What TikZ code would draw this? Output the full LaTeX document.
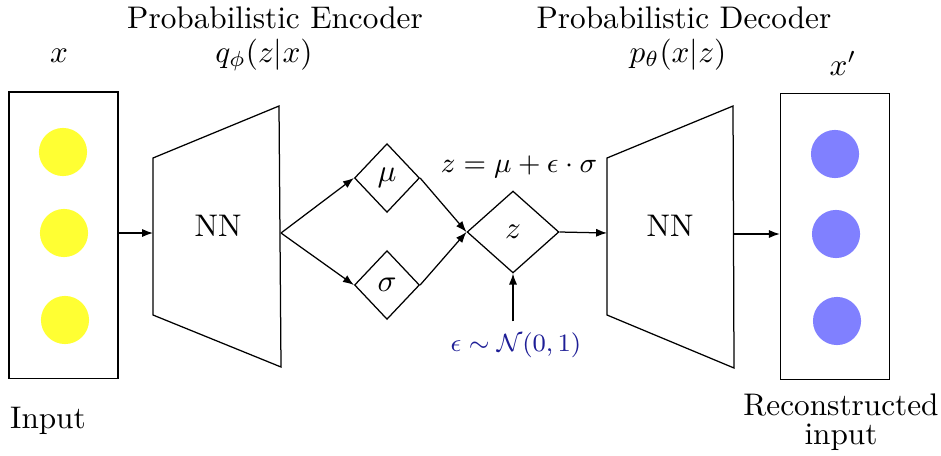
\documentclass[tikz,border=0pt]{standalone}
\usetikzlibrary{shapes.geometric,arrows.meta}
\definecolor{inyellow}{RGB}{255,255,51}
\definecolor{outblue}{RGB}{128,128,255}
\definecolor{epsblue}{RGB}{30,30,150}
\begin{document}
\begin{tikzpicture}[x=0.32pt,y=-0.32pt,
  arr/.style={-{Latex[length=3.5pt,width=2.6pt]}},
  layerbox/.style={draw,rectangle,minimum width=34.9pt,minimum height=91.6pt,inner sep=0},
  inunit/.style={circle,fill=inyellow,minimum size=15.4pt,inner sep=0},
  outunit/.style={circle,fill=outblue,minimum size=15.4pt,inner sep=0},
  gate/.style={draw,diamond,inner sep=0,minimum width=20.8pt,minimum height=22pt},
  zgate/.style={draw,diamond,inner sep=0,minimum width=29.4pt,minimum height=26.2pt},
  lbl/.style={anchor=base,inner sep=0}]
\useasboundingbox (0,0) rectangle (941,455);
% input
\node[layerbox] (inbox) at (63.5,235) {};
\node[inunit] (i1) at (63,152) {};
\node[inunit] (i2) at (64,233) {};
\node[inunit] (i3) at (65,320) {};
% encoder
\coordinate (e1) at (153,158);
\coordinate (e2) at (279,106);
\coordinate (e3) at (281,367);
\coordinate (e4) at (153,315);
\draw (e1) -- (e2) -- (e3) -- (e4) -- cycle;
\coordinate (ein) at (153,233);
\coordinate (eout) at (281,233);
\node (enc) at (218,226) {NN};
% latent
\node[gate] (mu) at (387,178) {$\mu$};
\node[gate] (sig) at (387,285) {$\sigma$};
\node[zgate] (z) at (513,232) {$z$};
\node[font=\fontsize{8.2}{10}\selectfont] (eps) at (516,345) {\color{epsblue}$\epsilon\sim\mathcal{N}(0,1)$};
\node[font=\fontsize{8.8}{11}\selectfont] (zeq) at (519,167) {$z=\mu+\epsilon\cdot\sigma$};
% decoder
\coordinate (d1) at (607,158);
\coordinate (d2) at (733,106);
\coordinate (d3) at (734,368);
\coordinate (d4) at (607,315);
\draw (d1) -- (d2) -- (d3) -- (d4) -- cycle;
\coordinate (din) at (607,233);
\coordinate (dout) at (733,234);
\node (dec) at (670,226) {NN};
% output
\node[layerbox] (outbox) at (835,236.5) {};
\node[outunit] (o1) at (835,154) {};
\node[outunit] (o2) at (836,234) {};
\node[outunit] (o3) at (837,321) {};
% connectors
\draw[arr] (inbox.east |- ein) -- (ein);
\draw[arr] (eout) -- (mu.west);
\draw[arr] (eout) -- (sig.west);
\draw[arr] (mu.east) -- (z.west);
\draw[arr] (sig.east) -- (z.west);
\draw[arr] (z.south |- eps.north) -- (z.south);
\draw[arr] (z.east) -- (din);
\draw[arr] (dout) -- (outbox.west |- dout);
% labels
\node[lbl] (xlab) at (59,62) {$x$};
\node[lbl] (enct) at (275,28) {Probabilistic Encoder};
\node[lbl] (encq) at (264,62) {$q_\phi(z|x)$};
\node[lbl] (dect) at (684,28) {Probabilistic Decoder};
\node[lbl] (decp) at (678,62) {$p_\theta(x|z)$};
\node[lbl] (xplab) at (843,75) {$x'$};
\node[lbl] (inlab) at (48,428) {Input};
\node[lbl,align=center] (outlab) at (841,444) {Reconstructed\\[-3pt] input};
\end{tikzpicture}
\end{document}
